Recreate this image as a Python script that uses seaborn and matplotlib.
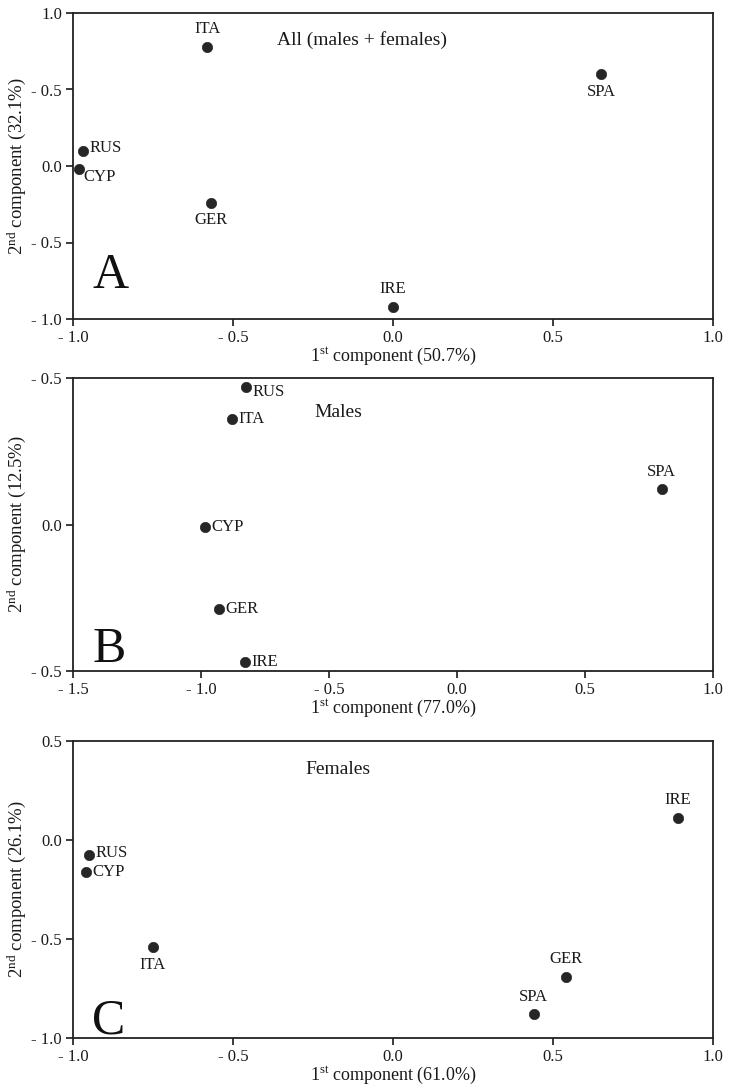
import matplotlib
matplotlib.use("Agg")
import matplotlib.pyplot as plt
import seaborn as sns
import pandas as pd
from matplotlib.ticker import FixedLocator, FixedFormatter

# ---------------- data ----------------
countries_a = ["ITA", "SPA", "RUS", "CYP", "GER", "IRE"]
pc1_a = [-0.58, 0.65, -0.97, -0.98, -0.57, 0.00]
pc2_a = [0.78, 0.60, 0.10, -0.02, -0.24, -0.92]

countries_b = ["RUS", "ITA", "SPA", "CYP", "GER", "IRE"]
pc1_b = [-0.825, -0.88, 0.80, -0.985, -0.93, -0.83]
pc2_b = [0.47, 0.36, 0.12, -0.01, -0.29, -0.47]

countries_c = ["IRE", "RUS", "CYP", "ITA", "GER", "SPA"]
pc1_c = [0.89, -0.95, -0.96, -0.75, 0.54, 0.44]
pc2_c = [0.11, -0.075, -0.16, -0.54, -0.69, -0.88]

titles = ["All (males + females)", "Males", "Females"]
letters = ["A", "B", "C"]
xlabels = ["1$^{\\mathrm{st}}$ component (50.7%)",
           "1$^{\\mathrm{st}}$ component (77.0%)",
           "1$^{\\mathrm{st}}$ component (61.0%)"]
ylabels = ["2$^{\\mathrm{nd}}$ component (32.1%)",
           "2$^{\\mathrm{nd}}$ component (12.5%)",
           "2$^{\\mathrm{nd}}$ component (26.1%)"]

xticks_a = [-1.0, -0.5, 0.0, 0.5, 1.0]
xticklabels_a = ["- 1.0", "- 0.5", "0.0", "0.5", "1.0"]
yticks_a = [1.0, 0.5, 0.0, -0.5, -1.0]
yticklabels_a = ["1.0", "- 0.5", "0.0", "- 0.5", "- 1.0"]

xticks_b = [-1.5, -1.0, -0.5, 0.0, 0.5, 1.0]
xticklabels_b = ["- 1.5", "- 1.0", "- 0.5", "0.0", "0.5", "1.0"]
yticks_b = [0.5, 0.0, -0.5]
yticklabels_b = ["- 0.5", "0.0", "- 0.5"]

xticks_c = [-1.0, -0.5, 0.0, 0.5, 1.0]
xticklabels_c = ["- 1.0", "- 0.5", "0.0", "0.5", "1.0"]
yticks_c = [0.5, 0.0, -0.5, -1.0]
yticklabels_c = ["0.5", "0.0", "- 0.5", "- 1.0"]

# label placement (offset in points) -- style only
offs_a = {"ITA": (0, 7, "center", "bottom"), "SPA": (0, -7, "center", "top"),
          "RUS": (5, 2, "left", "center"), "CYP": (3, -6, "left", "center"),
          "GER": (0, -7, "center", "top"), "IRE": (0, 7, "center", "bottom")}
offs_b = {"RUS": (5, -4, "left", "center"), "ITA": (5, 0, "left", "center"),
          "SPA": (0, 7, "center", "bottom"), "CYP": (5, 0, "left", "center"),
          "GER": (5, 0, "left", "center"), "IRE": (5, 0, "left", "center")}
offs_c = {"IRE": (0, 7, "center", "bottom"), "RUS": (5, 1, "left", "center"),
          "CYP": (5, 0, "left", "center"), "ITA": (0, -7, "center", "top"),
          "GER": (0, 7, "center", "bottom"), "SPA": (0, 7, "center", "bottom")}

# ---------------- style ----------------
sns.set_theme(style="white")
plt.rcParams["font.family"] = ["Liberation Serif", "DejaVu Serif"]
plt.rcParams["mathtext.fontset"] = "custom"
plt.rcParams["mathtext.rm"] = "Liberation Serif"
plt.rcParams["mathtext.it"] = "Liberation Serif:italic"
plt.rcParams["mathtext.bf"] = "Liberation Serif:bold"

fig = plt.figure(figsize=(7.31, 10.92), dpi=100)
W, H = 731.0, 1092.0
boxes = [(73, 713, 13, 319), (73, 713, 378, 671), (73, 713, 741, 1038)]
letter_base = [288, 662, 1033]

panels = [
    (countries_a, pc1_a, pc2_a, (-1.0, 1.0), (-1.0, 1.0), xticks_a, xticklabels_a, yticks_a, yticklabels_a, offs_a, (362, 40)),
    (countries_b, pc1_b, pc2_b, (-1.5, 1.0), (-0.5, 0.5), xticks_b, xticklabels_b, yticks_b, yticklabels_b, offs_b, (338, 412)),
    (countries_c, pc1_c, pc2_c, (-1.0, 1.0), (-1.0, 0.5), xticks_c, xticklabels_c, yticks_c, yticklabels_c, offs_c, (338, 770)),
]

for i, (names, xs, ys, xl, yl, xt, xtl, yt, ytl, offs, tpos) in enumerate(panels):
    l, r, t, b = boxes[i]
    ax = fig.add_axes([l / W, 1 - b / H, (r - l) / W, (b - t) / H])
    df = pd.DataFrame({"name": names, "pc1": xs, "pc2": ys})
    sns.scatterplot(data=df, x="pc1", y="pc2", ax=ax, s=55, color="#262626",
                    edgecolor="#262626", linewidth=0.5, zorder=3, clip_on=False)
    for _, row in df.iterrows():
        dx, dy, ha, va = offs[row["name"]]
        ax.annotate(row["name"], (row["pc1"], row["pc2"]), xytext=(dx, dy),
                    textcoords="offset points", ha=ha, va=va, fontsize=12,
                    color="#1a1a1a")
    ax.set_xlim(*xl)
    ax.set_ylim(*yl)
    ax.xaxis.set_major_locator(FixedLocator(xt))
    ax.xaxis.set_major_formatter(FixedFormatter(xtl))
    ax.yaxis.set_major_locator(FixedLocator(yt))
    ax.yaxis.set_major_formatter(FixedFormatter(ytl))
    ax.tick_params(axis="both", which="major", direction="out", length=5, width=1.2,
                   labelsize=12, colors="#1a1a1a", bottom=True, left=True, pad=3)
    for sp in ax.spines.values():
        sp.set_visible(True)
        sp.set_color("#222222")
        sp.set_linewidth(1.3)
    ax.set_xlabel(xlabels[i], fontsize=13, color="#1a1a1a", labelpad=0)
    ax.set_ylabel(ylabels[i], fontsize=13.5, color="#1a1a1a", labelpad=2)
    ax.text(0.03, (b - letter_base[i]) / (b - t), letters[i], transform=ax.transAxes,
            fontsize=36, ha="left", va="baseline", color="#111111")
    ax.text((tpos[0] - l) / (r - l), 1 - (tpos[1] - t) / (b - t), titles[i],
            transform=ax.transAxes, fontsize=14, ha="center", va="center",
            color="#1a1a1a")
    ax.grid(False)

fig.savefig("out.png", dpi=100)
